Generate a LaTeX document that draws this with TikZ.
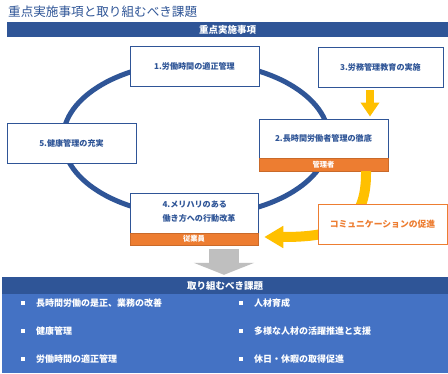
\documentclass[tikz,border=0pt]{standalone}
\usepackage{fontspec}
\setmainfont{Noto Sans CJK JP}
\usetikzlibrary{arrows.meta}
\definecolor{navy}{HTML}{2F5597}
\definecolor{panelblue}{HTML}{4472C4}
\definecolor{orng}{HTML}{ED7D31}
\definecolor{yell}{HTML}{FFC000}
\definecolor{grayarr}{HTML}{BFBFBF}
\begin{document}
\begin{tikzpicture}[x=1pt,y=-1pt,
  box/.style={draw=navy, line width=0.9pt, fill=white, text=navy,
    font=\bfseries\fontsize{8.1}{10}\selectfont, inner sep=0pt,
    minimum width=129pt, minimum height=40pt},
  tag/.style={draw=orng!85!black, line width=0.5pt, fill=orng, text=white,
    font=\bfseries\fontsize{7.3}{8}\selectfont, inner sep=0pt,
    minimum width=129pt, minimum height=12.5pt},
  bar/.style={fill=navy, text=white, font=\bfseries\fontsize{9.5}{11}\selectfont, inner sep=0pt},
  bullet/.style={fill=white, minimum size=4.8pt, inner sep=0pt},
  item/.style={anchor=west, text=white, font=\bfseries\fontsize{9}{11}\selectfont, inner sep=0pt},
]
\useasboundingbox (0,0) rectangle (448,373);
\fill[white] (0,0) rectangle (448,373);

% title
\node[anchor=west, text=navy, font=\fontsize{12.6}{14}\selectfont, inner sep=0pt] (title) at (8,12) {重点実施事項と取り組むべき課題};

% top header bar
\node[bar, minimum width=441pt, minimum height=15pt] (hbar) at (227.5,29.5) {重点実施事項};

% ellipse cycle
\draw[navy, line width=5pt] (196,139) ellipse [x radius=133, y radius=77];

% boxes
\node[box] (b1) at (194.5,66) {1.労働時間の適正管理};
\node[box, minimum width=125pt] (b3) at (380.5,67) {3.労務管理教育の実施};
\node[box, minimum height=39pt] (b2) at (323.5,138.5) {2.長時間労働者管理の徹底};
\node[tag] (t2) at (323.5,164.5) {管理者};
\node[box] (b5) at (71.5,143) {5.健康管理の充実};
\node[box, minimum width=128pt] (b4) at (194,213) {};
\node[text=navy, font=\bfseries\fontsize{8.1}{14}\selectfont, align=left, inner sep=0pt] (b4txt) at (199,212) {4.メリハリのある\\働き方への行動改革};
\node[tag, minimum width=128pt, minimum height=12pt] (t4) at (194,239) {従業員};

% yellow arrows
\coordinate (ax) at (370,0);
\draw[yell, line width=7.5pt, -{Triangle[length=14pt,width=18pt]}, shorten <=3pt, shorten >=2pt]
  (b3.south -| ax) -- (b2.north -| ax);
\coordinate (cx) at (366,0);
\draw[yell, line width=10pt, -{Triangle[length=19pt,width=21pt]}]
  (t2.south -| cx) .. controls (367,228) and (335,237) .. ([xshift=6pt,yshift=2pt]t4.east);

% communication box
\node[draw=orng, line width=0.9pt, fill=white, text=orng, font=\bfseries\fontsize{8.8}{10}\selectfont,
  minimum width=129pt, minimum height=40pt, inner sep=0pt] (comm) at (382.5,224) {コミュニケーションの促進};

% bottom header and panel
\node[bar, minimum width=446pt, minimum height=17pt] (bbar) at (225,285.5) {取り組むべき課題};
\fill[panelblue] (2,294) rectangle (448,373);

% gray arrow
\coordinate (gx) at (224,0);
\draw[grayarr, line width=30pt, -{Triangle[length=12pt,width=60pt]}, shorten <=4pt, shorten >=2pt]
  (t4.south -| gx) -- (bbar.north -| gx);

% items
\node[bullet] (l1) at (23,303) {};
\node[item] (l1t) at (36,303) {長時間労働の是正、業務の改善};
\node[bullet] (l2) at (23,331) {};
\node[item] (l2t) at (36,331) {健康管理};
\node[bullet] (l3) at (23,359) {};
\node[item] (l3t) at (36,359) {労働時間の適正管理};
\node[bullet] (r1) at (241,303) {};
\node[item] (r1t) at (254,303) {人材育成};
\node[bullet] (r2) at (241,331) {};
\node[item] (r2t) at (254,331) {多様な人材の活躍推進と支援};
\node[bullet] (r3) at (241,359) {};
\node[item] (r3t) at (254,359) {休日・休暇の取得促進};
\end{tikzpicture}
\end{document}
